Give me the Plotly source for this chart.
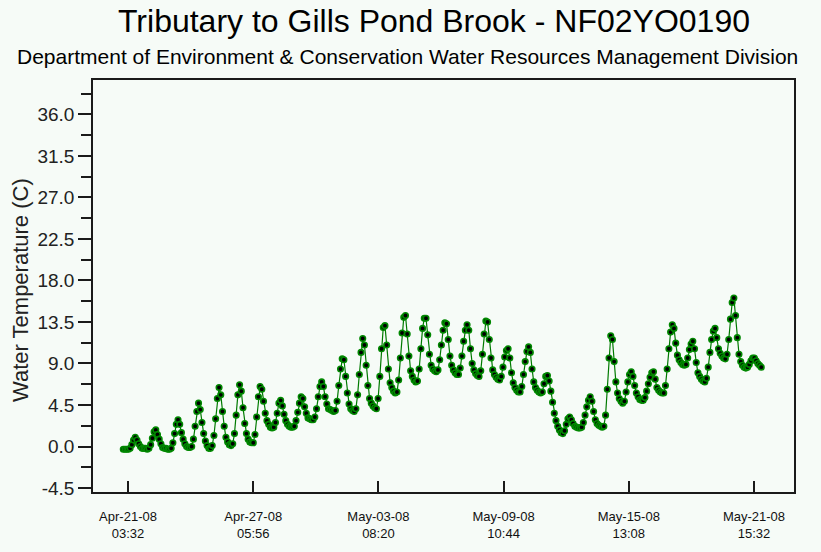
import pandas as pd
import plotly.graph_objects as go

# Logger readings: first sample time and sampling step
start_time = "2008-04-20 22:00"
sample_step = "2h"

# Water temperature (C), 2-hourly; one row per day (00:00 ... 22:00)
water_temp_c = [
    -0.3,                                                               # Apr-20 22:00
    -0.3, -0.3, -0.3, -0.2, 0.2, 0.7, 1.0, 0.7, 0.3, 0.0, -0.2, -0.2,    # Apr-21
    -0.2, -0.3, -0.2, 0.2, 0.9, 1.6, 1.8, 1.3, 0.8, 0.3, -0.1, -0.2,     # Apr-22
    -0.2, -0.3, -0.3, -0.2, 0.4, 1.4, 2.4, 2.9, 2.4, 1.5, 0.8, 0.3,      # Apr-23
    0.0, -0.1, -0.1, 0.0, 0.8, 2.2, 3.8, 4.7, 4.0, 2.6, 1.4, 0.6,        # Apr-24
    0.1, -0.2, -0.2, 0.1, 1.2, 3.0, 5.2, 6.4, 5.6, 3.8, 2.2, 1.0,        # Apr-25
    0.5, 0.2, 0.1, 0.3, 1.4, 3.4, 5.6, 6.7, 6.0, 4.2, 2.5, 1.4,          # Apr-26
    0.8, 0.5, 0.4, 0.4, 1.3, 3.2, 5.4, 6.5, 6.2, 4.9, 3.6, 2.8,          # Apr-27
    2.4, 2.1, 2.0, 2.1, 2.6, 3.6, 4.7, 5.0, 4.4, 3.5, 2.8, 2.4,          # Apr-28
    2.2, 2.1, 2.1, 2.2, 2.8, 3.7, 4.7, 5.4, 5.2, 4.3, 3.6, 3.1,          # Apr-29
    3.0, 2.9, 2.9, 3.2, 4.1, 5.4, 6.5, 7.0, 6.5, 5.4, 4.6, 4.1,          # Apr-30
    4.0, 3.9, 3.8, 3.9, 4.9, 6.6, 8.4, 9.5, 9.4, 7.6, 5.8, 4.6,          # May-01
    4.1, 3.9, 3.8, 4.1, 5.6, 7.8, 10.2, 11.7, 11.0, 8.8, 6.6, 5.2,       # May-02
    4.7, 4.4, 4.2, 4.1, 5.2, 7.6, 10.6, 12.9, 13.1, 11.0, 8.4, 6.9,      # May-03
    6.4, 6.0, 5.8, 5.9, 7.2, 9.6, 12.3, 14.0, 14.2, 12.2, 9.8, 8.2,      # May-04
    7.6, 7.2, 7.0, 7.1, 8.4, 10.6, 12.8, 13.9, 13.9, 12.1, 10.0, 8.8,    # May-05
    8.4, 8.2, 8.1, 8.3, 9.4, 11.0, 12.6, 13.4, 13.3, 11.6, 9.8, 8.8,     # May-06
    8.3, 8.0, 7.8, 7.8, 8.5, 9.8, 11.4, 12.6, 13.2, 12.6, 10.6, 9.0,     # May-07
    8.3, 7.9, 7.7, 7.6, 8.2, 10.0, 12.2, 13.6, 13.5, 11.6, 9.6, 8.3,     # May-08
    7.8, 7.5, 7.3, 7.2, 7.6, 8.6, 9.7, 10.4, 10.6, 9.6, 8.0, 6.9,        # May-09
    6.4, 6.1, 5.9, 5.9, 6.5, 7.8, 9.2, 10.3, 10.8, 10.2, 8.4, 7.0,       # May-10
    6.4, 6.1, 5.9, 5.8, 5.9, 6.8, 7.6, 7.7, 7.1, 6.0, 4.8, 3.6,          # May-11
    2.8, 2.2, 1.8, 1.5, 1.4, 1.7, 2.4, 3.0, 3.2, 2.9, 2.5, 2.2,          # May-12
    2.1, 2.0, 2.0, 2.1, 2.6, 3.4, 4.3, 5.0, 5.4, 4.9, 3.8, 2.9,          # May-13
    2.5, 2.3, 2.2, 2.1, 2.2, 3.4, 6.2, 9.6, 12.0, 11.6, 9.2, 7.0,        # May-14
    5.8, 5.2, 4.9, 4.7, 4.9, 5.9, 7.0, 7.8, 8.1, 7.6, 6.6, 5.8,          # May-15
    5.4, 5.1, 5.0, 5.0, 5.3, 6.0, 6.8, 7.5, 8.0, 8.1, 7.3, 6.4,          # May-16
    6.1, 5.9, 5.8, 5.8, 6.6, 8.4, 10.6, 12.4, 13.2, 12.8, 11.2, 9.9,     # May-17
    9.4, 9.1, 8.9, 8.8, 8.9, 9.6, 10.5, 11.1, 11.4, 10.6, 9.1, 8.0,      # May-18
    7.6, 7.3, 7.1, 7.0, 7.4, 8.6, 10.2, 11.6, 12.5, 12.8, 11.8, 10.6,    # May-19
    10.1, 9.8, 9.6, 9.5, 10.0, 11.6, 13.8, 15.6, 16.1, 14.2, 11.8, 10.0, # May-20
    9.2, 8.8, 8.6, 8.5, 8.6, 8.9, 9.3, 9.6, 9.6, 9.3, 9.0, 8.8,          # May-21
    8.6,                                                                # May-22 00:00
]

# Axis ticks
x_tick_times = [
    "2008-04-21 03:32", "2008-04-27 05:56", "2008-05-03 08:20",
    "2008-05-09 10:44", "2008-05-15 13:08", "2008-05-21 15:32",
]
x_tick_text = [
    "Apr-21-08<br>03:32", "Apr-27-08<br>05:56", "May-03-08<br>08:20",
    "May-09-08<br>10:44", "May-15-08<br>13:08", "May-21-08<br>15:32",
]
y_tick_values = [-4.5, 0.0, 4.5, 9.0, 13.5, 18.0, 22.5, 27.0, 31.5, 36.0]
y_tick_text = ["-4.5", "0.0", "4.5", "9.0", "13.5", "18.0", "22.5", "27.0", "31.5", "36.0"]

x_range = ["2008-04-19 10:35", "2008-05-23 14:19"]
y_range = [-4.93, 39.72]

times = pd.date_range(start_time, periods=len(water_temp_c), freq=sample_step)

bg = "#f6fbf7"
axis_color = "#1a1a1a"

fig = go.Figure()
fig.add_trace(
    go.Scatter(
        x=times,
        y=water_temp_c,
        mode="lines+markers",
        line=dict(color="#007a00", width=1.2),
        marker=dict(size=5.5, color="#000000", line=dict(color="#008800", width=1.6)),
        hoverinfo="x+y",
        showlegend=False,
    )
)

fig.update_layout(
    width=821,
    height=552,
    margin=dict(l=93, r=27, t=80, b=60),
    paper_bgcolor=bg,
    plot_bgcolor=bg,
    font=dict(family="Liberation Sans, Arial, sans-serif", color="#111111"),
    showlegend=False,
    annotations=[
        dict(
            text="Tributary to Gills Pond Brook - NF02YO0190",
            xref="paper", yref="paper",
            x=(434 - 93) / 701, y=(492 - 21) / 412,
            xanchor="center", yanchor="middle",
            showarrow=False,
            font=dict(size=32, color="#000000"),
        ),
        dict(
            text="Department of Environment & Conservation Water Resources Management Division",
            xref="paper", yref="paper",
            x=(407.5 - 93) / 701, y=(492 - 57) / 412,
            xanchor="center", yanchor="middle",
            showarrow=False,
            font=dict(size=21, color="#000000"),
        ),
        dict(
            text="Water Temperature (C)",
            xref="paper", yref="paper",
            x=(20 - 93) / 701, y=(492 - 290) / 412,
            xanchor="center", yanchor="middle",
            textangle=-90,
            showarrow=False,
            font=dict(size=22, color="#222222"),
        ),
    ],
)

fig.update_xaxes(
    type="date",
    range=x_range,
    tickmode="array",
    tickvals=x_tick_times,
    ticktext=x_tick_text,
    ticks="inside",
    ticklen=11,
    tickwidth=1.5,
    tickcolor=axis_color,
    tickfont=dict(size=13, color="#111111"),
    ticklabelstandoff=12,
    showline=True,
    linecolor=axis_color,
    linewidth=1.5,
    mirror=True,
    showgrid=False,
    zeroline=False,
)

fig.update_yaxes(
    range=y_range,
    tickmode="array",
    tickvals=y_tick_values,
    ticktext=y_tick_text,
    ticks="outside",
    ticklen=13,
    tickwidth=1.5,
    tickcolor=axis_color,
    tickfont=dict(size=19, color="#222222"),
    minor=dict(ticks="outside", ticklen=10, tickwidth=1.5, tickcolor=axis_color,
               tickmode="linear", tick0=-4.5, dtick=2.25),
    showline=True,
    linecolor=axis_color,
    linewidth=1.5,
    mirror=True,
    showgrid=False,
    zeroline=False,
)

fig.write_html("out.html")
